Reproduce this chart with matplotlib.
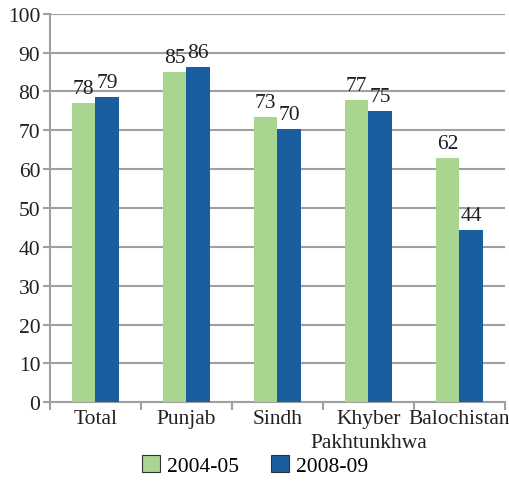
import matplotlib
matplotlib.use("Agg")
import matplotlib.pyplot as plt
import matplotlib.transforms as mtransforms
import numpy as np
from matplotlib.patches import Patch

categories = ["Total", "Punjab", "Sindh", "Khyber", "Balochistan"]
category_second_line = ["", "", "", "Pakhtunkhwa", ""]
series_names = ["2004-05", "2008-09"]
values_0405 = [77.0, 85.0, 73.4, 77.8, 62.9]
values_0809 = [78.6, 86.3, 70.3, 74.9, 44.3]
labels_0405 = ["78", "85", "73", "77", "62"]
labels_0809 = ["79", "86", "70", "75", "44"]
yticks = [0, 10, 20, 30, 40, 50, 60, 70, 80, 90, 100]

green = "#A8D590"
blue = "#195E9E"
grid_c = "#A0A0A0"
txt_c = "#231F20"
fs = 15.5

plt.rcParams['font.family'] = ['Liberation Serif', 'DejaVu Serif']
fig = plt.figure(figsize=(5.10, 4.85), dpi=100)
ax = fig.add_axes([0.098, 0.1684, 0.892, 0.8013])

x = np.arange(len(categories))
w = 0.255
b1 = ax.bar(x - w/2, values_0405, w, color=green, zorder=3)
b2 = ax.bar(x + w/2, values_0809, w, color=blue, zorder=3)

for bars, labs in ((b1, labels_0405), (b2, labels_0809)):
    for r, t in zip(bars, labs):
        ax.annotate(t, (r.get_x() + r.get_width()/2, r.get_height()),
                    xytext=(0, 3.5), textcoords="offset points",
                    ha="center", va="bottom", fontsize=fs, color=txt_c)

ax.set_xlim(-0.5, len(categories) - 0.5)
ax.set_ylim(0, 100)
ax.set_yticks(yticks)
ax.yaxis.grid(True, color=grid_c, linewidth=1.5, zorder=0)
ax.set_axisbelow(True)
ax.tick_params(axis='y', length=5, width=1.5, color=grid_c, labelsize=fs,
               labelcolor=txt_c, pad=2)

ax.set_xticks(x)
ax.set_xticklabels(categories, fontsize=fs, color=txt_c)
ax.tick_params(axis='x', which='major', length=0, pad=5)
ax.set_xticks(np.arange(-0.5, len(categories)), minor=True)
ax.tick_params(axis='x', which='minor', length=6, width=1.5, color=grid_c)

trans = mtransforms.blended_transform_factory(ax.transData, ax.transAxes)
for xi, t in zip(x, category_second_line):
    if t:
        ax.annotate(t, (xi, 0), xycoords=trans, xytext=(0, -22),
                    textcoords="offset points", ha="center", va="top",
                    fontsize=fs, color=txt_c, annotation_clip=False)

for s in ("top", "right"):
    ax.spines[s].set_visible(False)
for s in ("left", "bottom"):
    ax.spines[s].set_color(grid_c)
    ax.spines[s].set_linewidth(1.5)

handles = [Patch(facecolor=green, edgecolor="#333333", linewidth=0.8),
           Patch(facecolor=blue, edgecolor="#333333", linewidth=0.8)]
fig.legend(handles, series_names, loc="center", bbox_to_anchor=(0.5, 0.038),
           ncol=2, frameon=False, fontsize=fs, handlelength=0.85,
           handleheight=0.85, handletextpad=0.3, columnspacing=1.5)

fig.savefig("out.png", dpi=100)
